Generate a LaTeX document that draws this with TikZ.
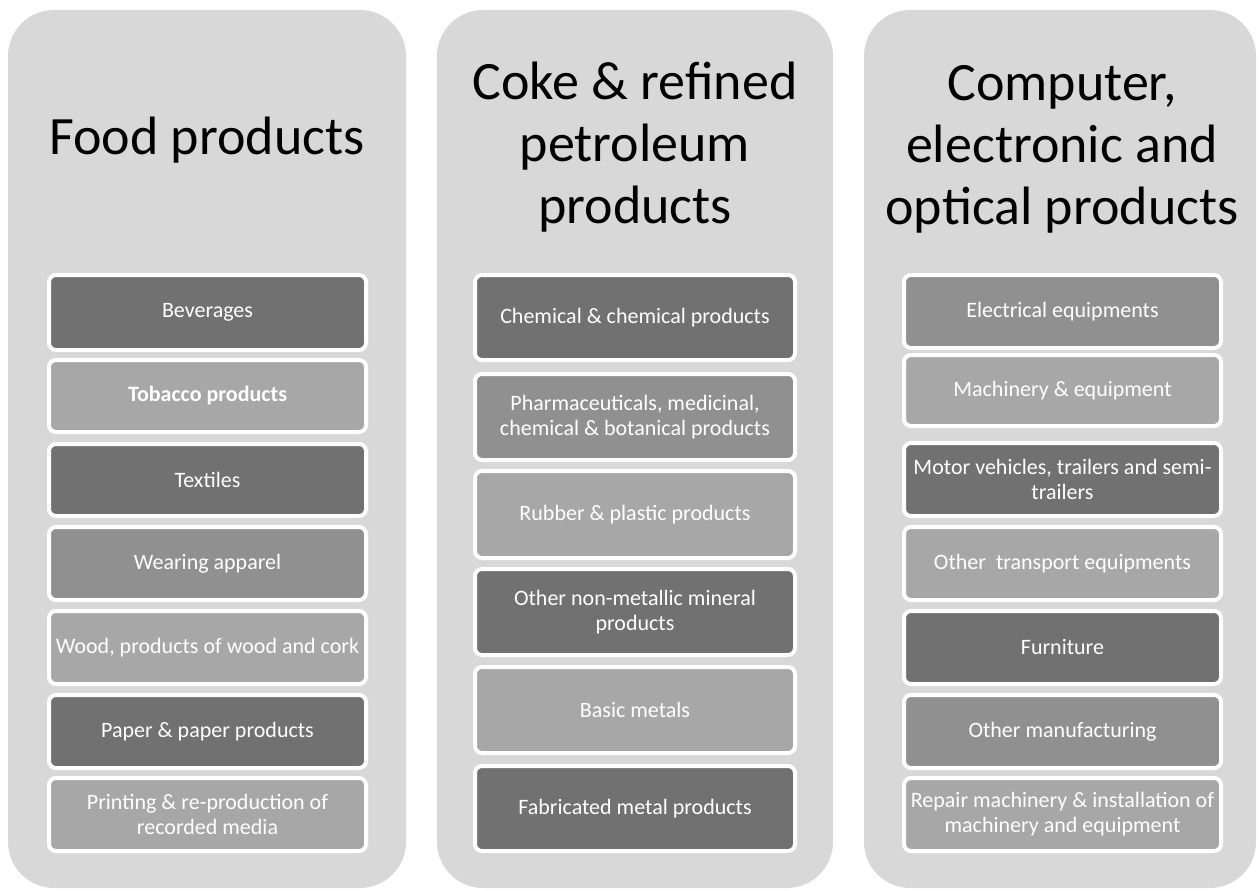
\documentclass[tikz,border=0pt]{standalone}
\usepackage{fontspec}
\setmainfont{Carlito}
\definecolor{panelgray}{RGB}{216,216,216}
\definecolor{darkbox}{RGB}{113,113,113}
\definecolor{midbox}{RGB}{144,144,144}
\definecolor{lightbox}{RGB}{167,167,167}
\tikzset{
  panel/.style={fill=panelgray, rounded corners=46pt, inner sep=0pt},
  heading/.style={align=center, text=black, inner sep=0pt,
    font=\fontsize{54}{62}\selectfont},
  itembox/.style={draw=white, line width=4pt, rounded corners=7pt,
    inner sep=0pt, align=center, text=white,
    font=\fontsize{22}{25}\selectfont},
}
% name, x centre, top, bottom, width, fill, text
\newcommand\itembox[7]{%
  \node[itembox, fill=#6, minimum width=#5, minimum height={#4-#3-4}]
    (#1) at (#2,{(#3+#4)/2}) {#7};}
\begin{document}
\begin{tikzpicture}[x=1pt, y=-1pt]
\useasboundingbox (0,0) rectangle (1259,891);

% three background panels
\node[panel, minimum width=398, minimum height=878] (p1) at (207,449) {};
\node[panel, minimum width=396, minimum height=878] (p2) at (635,449) {};
\node[panel, minimum width=392, minimum height=878] (p3) at (1060,449) {};

% panel headings
\node[heading] (h1) at (207,140) {Food products};
\node[heading] (h2) at (635,147) {Coke \& refined\\petroleum\\products};
\node[heading] (h3) at (1062,149) {Computer,\\electronic and\\optical products};

% first column
\itembox{a1}{207.5}{273}{352}{317}{darkbox}{Beverages}
\itembox{a2}{207.5}{358}{434}{317}{lightbox}{\bfseries Tobacco products}
\itembox{a3}{207.5}{442}{518}{317}{darkbox}{Textiles}
\itembox{a4}{207.5}{525}{602}{317}{midbox}{Wearing apparel}
\itembox{a5}{207.5}{609}{686}{317}{lightbox}{Wood, products of wood and cork}
\itembox{a6}{207.5}{693}{770}{317}{darkbox}{Paper \& paper products}
\itembox{a7}{207.5}{776}{853}{317}{lightbox}{Printing \& re-production of\\recorded media}

% second column
\itembox{b1}{635}{273}{362}{320}{darkbox}{Chemical \& chemical products}
\itembox{b2}{635}{372}{462}{320}{midbox}{Pharmaceuticals, medicinal,\\chemical \& botanical products}
\itembox{b3}{635}{469}{560}{320}{lightbox}{Rubber \& plastic products}
\itembox{b4}{635}{567}{657}{320}{darkbox}{Other non-metallic mineral\\products}
\itembox{b5}{635}{665}{755}{320}{lightbox}{Basic metals}
\itembox{b6}{635}{764}{853}{320}{darkbox}{Fabricated metal products}

% third column
\itembox{c1}{1062.5}{273}{350}{317}{midbox}{Electrical equipments}
\itembox{c2}{1062.5}{353}{428}{317}{lightbox}{Machinery \& equipment}
\itembox{c3}{1062.5}{441}{518}{317}{darkbox}{Motor vehicles, trailers and semi-\\trailers}
\itembox{c4}{1062.5}{525}{602}{317}{lightbox}{Other\ \ transport equipments}
\itembox{c5}{1062.5}{609}{686}{317}{darkbox}{Furniture}
\itembox{c6}{1062.5}{693}{770}{317}{midbox}{Other manufacturing}
\itembox{c7}{1062.5}{776}{853}{317}{lightbox}{Repair machinery \& installation of\\machinery and equipment}
\end{tikzpicture}
\end{document}
